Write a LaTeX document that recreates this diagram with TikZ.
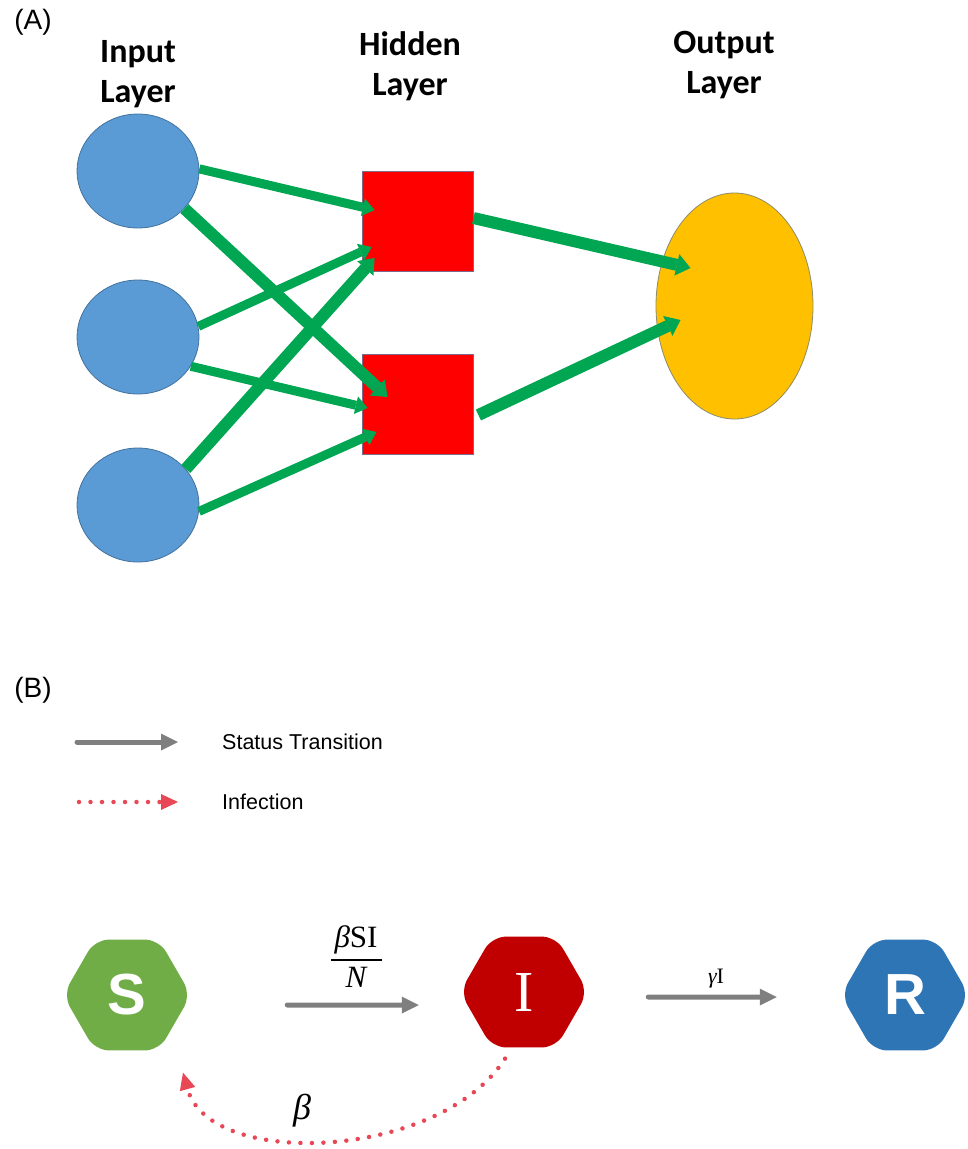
\documentclass[tikz,border=0pt]{standalone}
\usepackage{fontspec}
\newfontfamily\calibri{Carlito}
\newfontfamily\arial{Liberation Sans}
\newfontfamily\romanfont{Liberation Serif}
\usetikzlibrary{shapes.geometric,arrows.meta,calc}

\definecolor{inblue}{HTML}{5B9BD5}
\definecolor{inborder}{HTML}{41719C}
\definecolor{hidred}{HTML}{FF0000}
\definecolor{hidborder}{HTML}{7F6A8C}
\definecolor{outgold}{HTML}{FFC000}
\definecolor{outborder}{HTML}{8C8C6A}
\definecolor{nngreen}{HTML}{00A651}
\definecolor{arrowgray}{HTML}{7F7F7F}
\definecolor{infred}{HTML}{E84855}
\definecolor{sgreen}{HTML}{70AD47}
\definecolor{ired}{HTML}{C00000}
\definecolor{rblue}{HTML}{2E75B6}

\tikzset{
  inputnode/.style={ellipse, fill=inblue, draw=inborder, line width=0.8pt,
    minimum width=122pt, minimum height=114pt, inner sep=0pt},
  hiddennode/.style={rectangle, fill=hidred, draw=hidborder, line width=0.8pt,
    minimum width=111pt, minimum height=100pt, inner sep=0pt},
  outnode/.style={ellipse, fill=outgold, draw=outborder, line width=0.8pt,
    minimum width=157pt, minimum height=226pt, inner sep=0pt},
  layertitle/.style={font=\calibri\bfseries\fontsize{34}{40}\selectfont,
    align=center, anchor=base, inner sep=0pt},
  paneltag/.style={font=\arial\fontsize{28}{32}\selectfont, inner sep=0pt},
  nnarrow/.style={draw=nngreen, line width=9pt,
    -{Triangle[length=12pt,width=18pt,line width=0pt]}},
  nnthick/.style={draw=nngreen, line width=12pt,
    -{Triangle[length=14pt,width=22pt,line width=0pt]}},
  hexnode/.style={regular polygon, regular polygon sides=6, minimum size=128pt,
    inner sep=0pt, rounded corners=14pt, text=white},
  transarrow/.style={draw=arrowgray, line width=5pt, line cap=round,
    -{Triangle[length=17pt,width=17pt,line width=0pt]}},
  infarrow/.style={draw=infred, line width=4.5pt, line cap=round,
    dash pattern=on 0pt off 11.5pt,
    -{Triangle[length=17pt,width=16pt,line width=0pt,fill=infred]}},
  legendtext/.style={font=\arial\fontsize{21.5}{24}\selectfont, anchor=west, inner sep=0pt},
  hexletter/.style={font=\arial\bfseries\fontsize{58}{60}\selectfont},
  rateLabel/.style={inner sep=0pt}
}

\begin{document}
\begin{tikzpicture}[x=1pt, y=-1pt]
\useasboundingbox (0,0) rectangle (967,1149);

% ---------- (A) feed-forward network ----------
\node[paneltag] (tagA) at (33,22) {(A)};

% base anchor sits on the baseline of the second line
\node[layertitle] (tin)  at (138,102) {Input\\Layer};
\node[layertitle] (thid) at (410,95) {Hidden\\Layer};
\node[layertitle] (tout) at (724,93) {Output\\Layer};

\node[inputnode] (c1) at (138,171) {};
\node[inputnode] (c2) at (138,337) {};
\node[inputnode] (c3) at (138,505) {};

\node[hiddennode] (h1) at (417.5,221) {};
\node[hiddennode] (h2) at (417.5,404) {};

\node[outnode] (o) at (734.5,306) {};

% input -> hidden
\draw[nnarrow] (c1.2)   -- ([xshift=13pt,yshift=11pt]h1.west);
\draw[nnthick] (c1.-39) -- ([xshift=26pt,yshift=7pt]h2.west);
\draw[nnarrow] (c2.10)  -- ([xshift=10pt,yshift=-26pt]h1.west);
\draw[nnarrow] (c2.-29) -- ([xshift=6pt,yshift=-4pt]h2.west);
\draw[nnthick] (c3.37)  -- ([xshift=13pt,yshift=-37pt]h1.west);
\draw[nnarrow] (c3.-6)  -- ([xshift=15pt,yshift=-28pt]h2.west);

% hidden -> output
\draw[nnthick] ([yshift=3pt]h1.east) -- ([xshift=-44pt,yshift=38pt]o.center);
\draw[nnthick] ([xshift=5pt,yshift=-11pt]h2.east) -- ([xshift=-54pt,yshift=-14pt]o.center);

% ---------- (B) SIR model ----------
\node[paneltag] (tagB) at (33,690) {(B)};

% legend
\coordinate (st0) at (77,742);
\coordinate (st1) at (178,742);
\draw[transarrow] (st0) -- (st1);
\node[legendtext] (lst) at (222,742) {Status Transition};

\coordinate (if0) at (79,802);
\coordinate (if1) at (178,802);
\draw[infarrow] (if0) -- (if1);
\node[legendtext] (linf) at (222,802) {Infection};

% compartments
\node[hexnode, fill=sgreen, hexletter] (S) at (127,995) {S};
\node[hexnode, fill=ired, font=\romanfont\fontsize{58}{60}\selectfont] (I) at (524,992) {I};
\node[hexnode, fill=rblue, hexletter] (R) at (905,995) {R};

% transitions
\draw[transarrow] ([xshift=96pt,yshift=-10pt]S.east) -- ([xshift=-41pt,yshift=-13pt]I.west);
\node[rateLabel, font=\romanfont\fontsize{31}{38}\selectfont] (rSI) at (356,960)
  {\setlength\arrayrulewidth{2pt}\setlength\tabcolsep{4pt}%
   \begin{tabular}{c}{\itshape β}SI\\\hline{\itshape N}\end{tabular}};

\draw[transarrow] ([xshift=60pt,yshift=-5pt]I.east) -- ([xshift=-64pt,yshift=-2pt]R.west);
\node[rateLabel, font=\romanfont\fontsize{22}{26}\selectfont, anchor=base] (rIR) at (716,983)
  {{\itshape γ}I};

% infection feedback
\draw[infarrow] ([xshift=-19pt,yshift=-11pt]I.south)
  .. controls (440,1160) and (210,1170) .. ([xshift=56pt,yshift=-22pt]S.south);
\node[rateLabel, font=\romanfont\itshape\fontsize{36}{40}\selectfont] (rb) at (302,1111) {β};

\end{tikzpicture}
\end{document}
